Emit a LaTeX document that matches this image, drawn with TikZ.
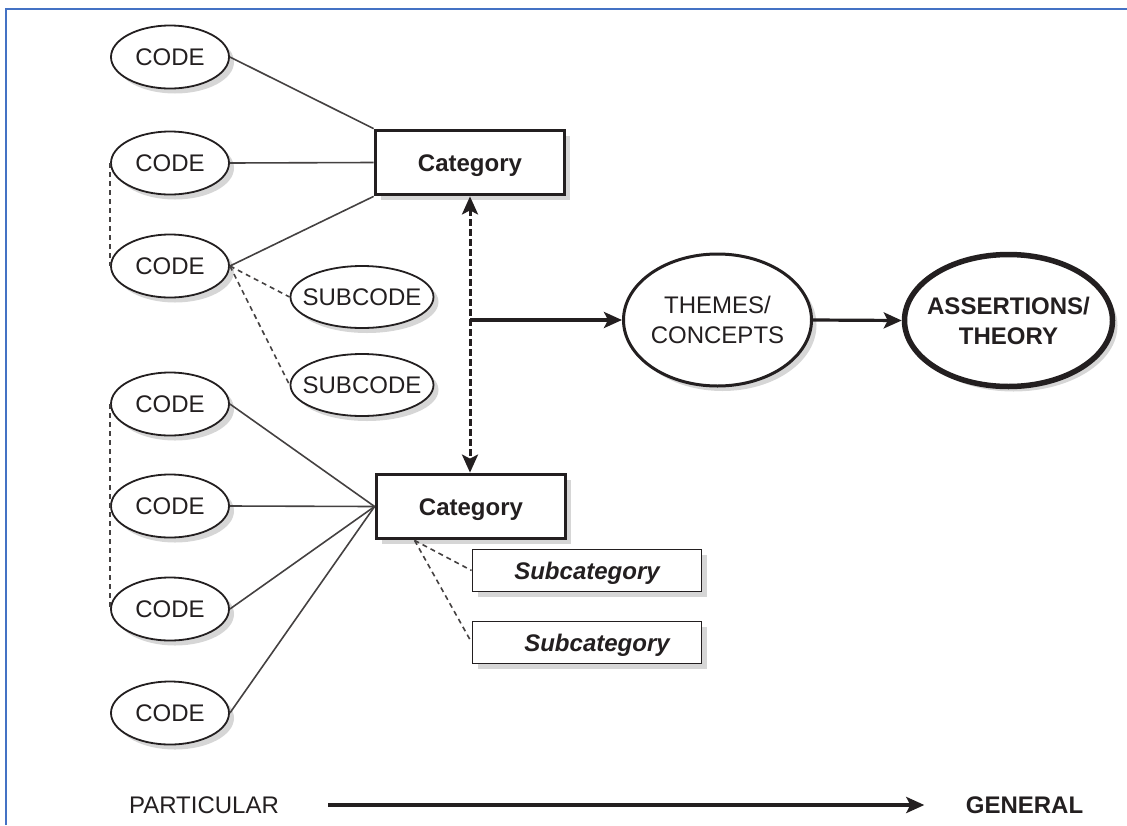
\documentclass[tikz,border=0pt]{standalone}
\usepackage{fontspec}
\setmainfont{Liberation Sans}
\usetikzlibrary{shapes.geometric,arrows.meta,shadows}
% zero-width, centred text so that a label may reach the outline of its shape
\newcommand\zw[1]{\makebox[0pt]{#1}}
\definecolor{ink}{RGB}{35,31,32}
\definecolor{frameblue}{RGB}{68,114,196}

\begin{document}
\begin{tikzpicture}[x=1pt,y=-1pt,
  font=\fontsize{24}{30}\selectfont,
  every node/.style={text=ink},
  castshadow/.style={drop shadow={shadow xshift=5pt,shadow yshift=-5pt,fill=black!16,opacity=1}},
  oneline/.style={text height=17pt,text depth=0pt},
  codeell/.style={ellipse,draw=ink,line width=1.8pt,fill=white,castshadow,
    minimum width=118pt,minimum height=63pt,inner sep=0pt,oneline},
  subell/.style={codeell,minimum width=143pt,minimum height=62pt},
  catbox/.style={rectangle,draw=ink,line width=3.8pt,fill=white,castshadow,
    minimum width=189pt,minimum height=64pt,inner sep=0pt,oneline,
    font=\fontsize{24}{30}\selectfont\bfseries},
  subcatbox/.style={rectangle,draw=ink,line width=1.8pt,fill=white,castshadow,
    minimum width=229pt,minimum height=42pt,inner sep=0pt,oneline,
    font=\fontsize{24}{30}\selectfont\bfseries\itshape},
  bigell/.style={ellipse,draw=ink,fill=white,castshadow,inner sep=0pt,
    align=center,minimum height=132pt},
  link/.style={draw=ink!85,line width=1.6pt},
  dlink/.style={link,dash pattern=on 5pt off 4pt},
  flow/.style={draw=ink,line width=3.2pt,-{Stealth[length=18pt,width=16pt,inset=4pt]}},
]
\useasboundingbox (0,0) rectangle (1127,825);

% page frame
\draw[frameblue,line width=2pt] (6,825) -- (6,9) -- (1127,9);

% codes
\node[codeell] (c1) at (170,57)  {CODE};
\node[codeell] (c2) at (170,163) {CODE};
\node[codeell] (c3) at (170,266) {CODE};
\node[codeell] (c4) at (170,404) {CODE};
\node[codeell] (c5) at (170,506) {CODE};
\node[codeell] (c6) at (170,609) {CODE};
\node[codeell] (c7) at (170,713) {CODE};

% subcodes
\node[subell] (s1) at (362,297) {\zw{SUBCODE}};
\node[subell] (s2) at (362,385) {\zw{SUBCODE}};

% categories
\node[catbox] (cat1) at (470,162.5) {Category};
\node[catbox] (cat2) at (471,506.5) {Category};

% subcategories
\node[subcatbox] (sc1) at (587,570.5) {Subcategory};
\node[subcatbox] (sc2) at (587,642.5) {\hspace*{20pt}Subcategory};

% themes and theory
\node[bigell,line width=3pt,minimum width=188pt] (themes) at (717.5,320)
  {\zw{THEMES/}\\\zw{CONCEPTS}};
\node[bigell,line width=5.5pt,minimum width=208pt,
  font=\fontsize{24}{30}\selectfont\bfseries] (theory) at (1008.5,320.5)
  {\zw{ASSERTIONS/}\\\zw{THEORY}};

% codes to categories
\draw[link] (c1.east) -- (cat1.north west);
\draw[link] (c2.east) -- (cat1.west);
\draw[link] (c3.east) -- (cat1.south west);
\foreach \c in {c4,c5,c6,c7}
  \draw[link] (\c.east) -- (cat2.west);

% dashed relations
\draw[dlink] (c3.east) -- (s1.west);
\draw[dlink] (c3.east) -- (s2.west);
\draw[dlink] (c2.west) -- (c3.west);
\draw[dlink] (c4.west) -- (c6.west);
\coordinate (c2b) at ([xshift=40pt]cat2.south west);
\draw[dlink] (c2b) -- (sc1.west);
\draw[dlink] (c2b) -- (sc2.west);

% between the categories, and on to themes and theory
\draw[draw=ink,line width=3pt,dash pattern=on 7pt off 3pt,
  {Stealth[length=18pt,width=16pt,inset=4pt]}-{Stealth[length=18pt,width=16pt,inset=4pt]}]
  (cat1.south) -- (cat1.south |- cat2.north);
\coordinate (j) at (cat1.south |- themes.west);
\draw[flow] (j) -- (themes.west);
\draw[flow] (themes.east) -- (theory.west);

% scale from particular to general
\node[oneline] (part) at (204,805) {PARTICULAR};
\node[oneline,font=\fontsize{24}{30}\selectfont\bfseries] (gen) at (1024.5,805) {GENERAL};
\draw[flow,line width=3.5pt,shorten <=46pt,shorten >=38pt] (part.east) -- (gen.west);
\end{tikzpicture}
\end{document}
